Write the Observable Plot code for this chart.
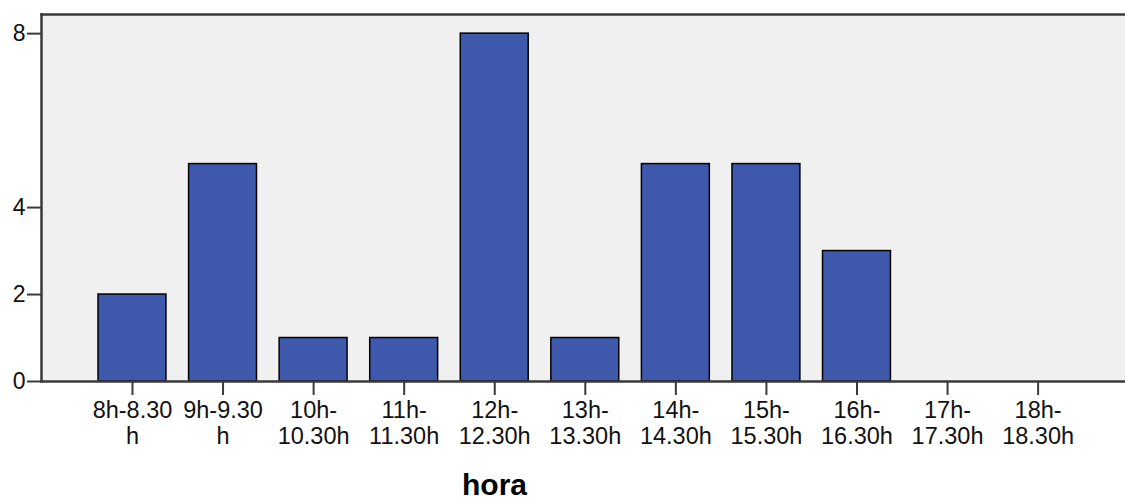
<!DOCTYPE html>
<html>
<head>
<meta charset="utf-8">
<script src="https://cdn.jsdelivr.net/npm/d3@7"></script>
<script src="https://cdn.jsdelivr.net/npm/@observablehq/plot@0.6"></script>
<style>
  html, body { margin: 0; padding: 0; background: #fff; }
</style>
</head>
<body>
<div id="chart"></div>
<script>
const categories = ["8h-8.30\nh", "9h-9.30\nh", "10h-\n10.30h", "11h-\n11.30h", "12h-\n12.30h", "13h-\n13.30h", "14h-\n14.30h", "15h-\n15.30h", "16h-\n16.30h", "17h-\n17.30h", "18h-\n18.30h"];
const counts = [2, 5, 1, 1, 8, 1, 5, 5, 3, 0, 0];
const yTicks = [0, 2, 4, 8];
const xLabel = "hora";

const data = categories.map((c, i) => ({hora: c, count: counts[i]}));
const axisColor = "#3a3a3a";

const chart = Plot.plot({
  width: 1125,
  height: 499,
  marginLeft: 41,
  marginRight: 0,
  marginTop: 14,
  marginBottom: 118,
  style: {fontFamily: "Liberation Sans, Arial, sans-serif", fontSize: "23px", color: "#000", background: "#fff"},
  x: {domain: categories, paddingInner: 0.25, paddingOuter: 0.125, insetLeft: 45.7, insetRight: 42.1, round: false},
  y: {domain: [0, 8.44]},
  marks: [
    Plot.frame({fill: "#f0f0f0", stroke: null}),
    Plot.barY(data, {x: "hora", y: "count", fill: "#3e58ac", stroke: "#000", strokeWidth: 1.5}),
    Plot.axisX({tickSize: 14, tickPadding: 4, label: null, stroke: axisColor, strokeWidth: 2, fontSize: 23.5, lineHeight: 1.1, fill: "#111"}),
    Plot.axisY({ticks: yTicks, tickSize: 14, tickPadding: 2, label: null, stroke: axisColor, strokeWidth: 2, fontSize: 23, fill: "#111"}),
    Plot.frame({anchor: "top", stroke: axisColor, strokeWidth: 2.5}),
    Plot.frame({anchor: "left", stroke: axisColor, strokeWidth: 2.5}),
    Plot.frame({anchor: "bottom", stroke: axisColor, strokeWidth: 2.5}),
    Plot.text([xLabel], {frameAnchor: "bottom", dx: -89, dy: 113, fontWeight: "bold", fontSize: 30, fill: "#000"})
  ]
});
document.getElementById("chart").appendChild(chart);
</script>
</body>
</html>
